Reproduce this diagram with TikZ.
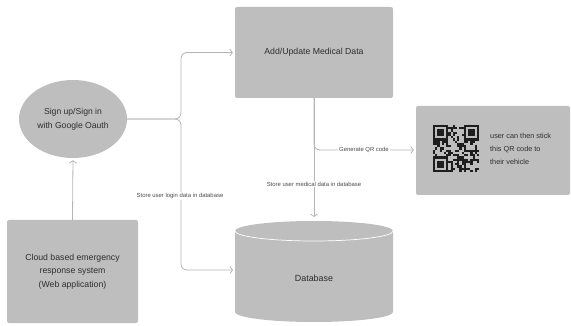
\documentclass[tikz,border=0pt]{standalone}
\usepackage{fontspec}
\setmainfont{Liberation Sans}
\usetikzlibrary{arrows.meta,shapes.geometric}
\definecolor{boxgray}{HTML}{BEBEBE}
\definecolor{linegray}{HTML}{B5B5B5}
\definecolor{txt}{HTML}{2E2E2E}
\definecolor{qrdark}{HTML}{1E1E1E}
\begin{document}
\begin{tikzpicture}[x=1pt,y=-1pt,
  box/.style={fill=boxgray, rounded corners=2pt, inner sep=0pt, align=center, text=txt},
  conn/.style={draw=linegray, line width=0.8pt, rounded corners=6pt, -{Straight Barb[length=2.5pt,width=7pt]}, shorten >=2pt},
  lbl/.style={fill=white, inner sep=1.2pt, text=txt!85, font=\fontsize{5.9}{7}\selectfont}]
\useasboundingbox (0,0) rectangle (571,326);
% nodes
\node[ellipse, fill=boxgray, minimum width=108pt, minimum height=78pt, inner sep=0pt, align=center, text=txt,
      font=\fontsize{8.6}{14}\selectfont] (sign) at (73,119) {Sign up/Sign in\\with Google Oauth};
\node[box, minimum width=158pt, minimum height=91pt, font=\fontsize{8.7}{10}\selectfont] (add) at (314,52.5) {Add/Update Medical Data};
\node[box, minimum width=131pt, minimum height=103pt, font=\fontsize{8.7}{13.5}\selectfont] (cloud) at (72.5,271.5)
  {Cloud based emergency\\response system\\(Web application)};
\node[box, minimum width=154pt, minimum height=89pt] (qr) at (493,150.5) {};
\node[anchor=west, align=left, text=txt, font=\fontsize{7.3}{13}\selectfont, inner sep=0pt] (qrtext) at (490,149)
  {user can then stick\\this QR code to\\their vehicle};
% QR code
\begin{scope}[shift={(433,125)}]
  \pgfmathsetseed{11}
  \foreach \i in {0,...,20}{
    \foreach \j in {0,...,20}{
      \pgfmathtruncatemacro{\r}{rnd<0.45 ? 1 : 0}
      \ifnum\r=1 \fill[qrdark] (\i*2.2,\j*2.25) rectangle ++(2.2,2.25);\fi
    }}
  \foreach \ox/\oy in {0/0, 14/0, 0/14}{
    \fill[boxgray] (\ox*2.2-0.01,\oy*2.25-0.01) rectangle ++(7*2.2+0.02,7*2.25+0.02);
    \fill[qrdark] (\ox*2.2,\oy*2.25) rectangle ++(7*2.2,7*2.25);
    \fill[boxgray] (\ox*2.2+2.2,\oy*2.25+2.25) rectangle ++(5*2.2,5*2.25);
    \fill[qrdark] (\ox*2.2+4.4,\oy*2.25+4.5) rectangle ++(3*2.2,3*2.25);
  }
\end{scope}
% database cylinder
\fill[boxgray] (235,231) -- (235,312) arc[start angle=180,end angle=360,x radius=79pt,y radius=10pt]
  -- (393,231) arc[start angle=0,end angle=180,x radius=79pt,y radius=10pt] -- cycle;
\draw[white, line width=0.7pt] (235,231) arc[start angle=180,end angle=360,x radius=79pt,y radius=10pt];
\node[text=txt, font=\fontsize{8.9}{10}\selectfont, inner sep=0pt] (db) at (314,278) {Database};
\coordinate (dbtop) at (314,219);
\coordinate (dbwest) at (235,270);
\coordinate (jn) at (181,119);
\coordinate (qj) at (314,150);
% connectors
\draw[conn] (sign.east) -- (jn) |- (add.west);
\draw[conn] (sign.east) -- (jn) |- (dbwest);
\draw[conn] (add.south) -- (dbtop);
\draw[conn] (add.south) -- (qj) -- (qr.west |- qj);
\draw[conn] (cloud.north) -- (sign.south);
% labels
\node[lbl] (l1) at (180,196) {Store user login data in database};
\node[lbl] (l2) at (314,184) {Store user medical data in database};
\node[lbl] (l3) at (364,150) {Generate QR code};
\end{tikzpicture}
\end{document}
